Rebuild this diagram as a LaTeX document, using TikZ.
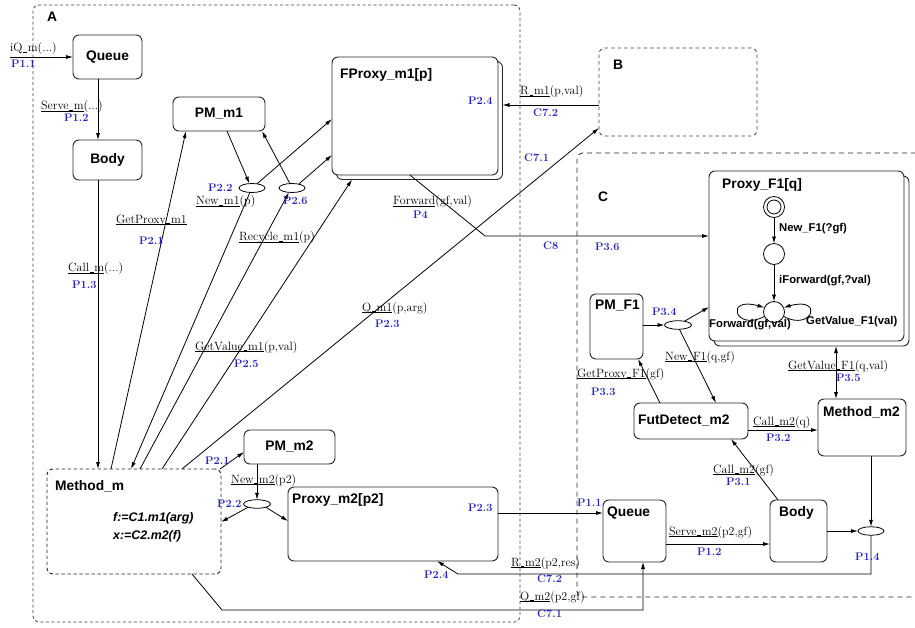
\documentclass[tikz,border=0pt]{standalone}
\usepackage{fontspec}
\setsansfont{Liberation Sans}
\usetikzlibrary{arrows.meta,shapes.geometric}
\definecolor{pblue}{RGB}{35,35,195}
\definecolor{boxc}{gray}{0.15}
\newcommand\ulab[1]{\underline{\smash{#1}}}
\newcommand\labus{\leavevmode\kern.06em\vbox{\hrule width.32em height.45pt}\kern.06em}
\begin{document}
\begin{tikzpicture}[x=1pt,y=-1pt,
  box/.style={draw=boxc, line width=0.95pt, rounded corners=6pt, fill=white, inner sep=0pt, outer sep=0pt},
  dbox/.style={box, dash pattern=on 3.5pt off 2.5pt},
  region/.style={draw=black!75, line width=0.8pt, rounded corners=6pt, inner sep=0pt, outer sep=0pt},
  ell/.style={draw=black, line width=0.8pt, ellipse, inner sep=0pt, outer sep=0pt, minimum width=27pt, minimum height=8.5pt},
  stc/.style={draw=black, line width=0.8pt, circle, inner sep=0pt, outer sep=0pt, minimum size=21pt},
  nm/.style={font=\sffamily\bfseries\fontsize{13.8}{14}\selectfont, inner sep=0pt},
  inl/.style={font=\sffamily\bfseries\fontsize{11.3}{12}\selectfont, inner sep=0pt, anchor=west},
  itl/.style={font=\sffamily\bfseries\itshape\fontsize{12.4}{13}\selectfont, inner sep=0pt, anchor=west},
  lab/.style={font=\fontsize{12}{12}\selectfont, inner sep=0pt, anchor=west, text=black},
  plab/.style={font=\bfseries\fontsize{11}{11}\selectfont, inner sep=0pt, anchor=west, text=pblue},
  conn/.style={draw=black, line width=0.8pt},
  arr/.style={conn, -{Latex[length=7pt,width=4pt]}},
  darr/.style={conn, {Latex[length=7pt,width=4pt]}-{Latex[length=7pt,width=4pt]}},
]
\useasboundingbox (0,0) rectangle (915,627);

% regions
\node[region, dash pattern=on 3pt off 2.5pt, minimum width=487pt, minimum height=617pt] (regA) at (276.5,313.5) {};
\node[region, dash pattern=on 3.5pt off 3pt, minimum width=158pt, minimum height=88pt] (regB) at (678,92) {};
\node[region, draw=black!85, dash pattern=on 5pt off 4pt, minimum width=363pt, minimum height=444pt] (regC) at (758.5,375) {};
\node[nm, anchor=west] (labA) at (47,17) {A};
\node[nm, anchor=west] (labB) at (613,65) {B};
\node[nm, anchor=west] (labC) at (598,197) {C};

% boxes in A
\node[box, minimum width=69pt, minimum height=44pt] (queueA) at (107.5,57) {};
\node[nm] (queueAt) at (queueA) {Queue};
\node[box, minimum width=69pt, minimum height=40pt] (bodyA) at (107.5,160) {};
\node[nm] (bodyAt) at (bodyA) {Body};
\node[box, minimum width=92pt, minimum height=34pt] (pmmone) at (219,114) {};
\node[nm] (pmmonet) at (pmmone) {PM\_m1};
\node[box, minimum width=166pt, minimum height=118pt] (fproxysh) at (419.5,120.5) {};
\node[box, minimum width=166pt, minimum height=118pt] (fproxy) at (415,116) {};
\node[nm, anchor=west] (fproxyt) at (340,75) {FProxy\_m1[p]};
\node[dbox, minimum width=174pt, minimum height=105pt] (methodm) at (134,521.5) {};
\node[nm, anchor=west] (methodmt) at (55,486) {Method\_m};
\node[itl] (fline) at (113,518) {f:=C1.m1(arg)};
\node[itl] (xline) at (113,536) {x:=C2.m2(f)};
\node[box, minimum width=91pt, minimum height=34pt] (pmmtwo) at (289.5,447) {};
\node[nm] (pmmtwot) at (pmmtwo) {PM\_m2};
\node[box, minimum width=210pt, minimum height=74pt] (proxymtwo) at (393,524) {};
\node[nm, anchor=west] (proxymtwot) at (292,500) {Proxy\_m2[p2]};

% boxes in C
\node[box, minimum width=63pt, minimum height=62pt] (queueC) at (634.5,531) {};
\node[nm, anchor=west] (queueCt) at (607,513) {Queue};
\node[box, minimum width=57pt, minimum height=62pt] (bodyC) at (798.5,531) {};
\node[nm, anchor=west] (bodyCt) at (779,513) {Body};
\node[box, minimum width=114pt, minimum height=36pt] (futdet) at (691,421) {};
\node[nm, anchor=west] (futdett) at (638,421) {FutDetect\_m2};
\node[box, minimum width=88pt, minimum height=57pt] (methodmtwo) at (862,427.5) {};
\node[nm, anchor=west] (methodmtwot) at (823,412) {Method\_m2};
\node[box, minimum width=53pt, minimum height=65pt] (pmfone) at (616.5,326.5) {};
\node[nm, anchor=west] (pmfonet) at (595,306) {PM\_F1};
\node[box, minimum width=195pt, minimum height=170pt] (proxyfonesh) at (811.5,261) {};
\node[box, minimum width=195pt, minimum height=170pt] (proxyfone) at (806.5,256) {};
\node[nm, anchor=west] (proxyfonet) at (722,185) {Proxy\_F1[q]};

% states inside Proxy_F1
\node[stc] (st0) at (774,207) {};
\node[stc, minimum size=14pt] (st0in) at (st0) {};
\node[stc] (st1) at (774,254) {};
\node[stc] (st2) at (774,312) {};
\draw[arr] (st0) -- (st1);
\draw[arr] (st1) -- (st2);
\draw[arr] (st2.205) .. controls (735,332) and (724,296) .. (st2.155);
\draw[arr] (st2.-25) .. controls (813,332) and (824,296) .. (st2.25);
\node[inl] (tnew) at (779,229) {New\_F1(?gf)};
\node[inl] (tifw) at (779,281) {iForward(gf,?val)};
\node[inl] (tfw) at (709,325) {Forward(gf,val)};
\node[inl] (tgv) at (806,322) {GetValue\_F1(val)};

% ellipses
\node[ell, minimum width=26pt, minimum height=9pt] (ell22) at (252,188) {};
\node[ell, minimum width=26pt, minimum height=9pt] (ell26) at (292,188) {};
\node[ell] (ellm2) at (257,504) {};
\node[ell] (ell34) at (678,325) {};
\node[ell, minimum width=26pt] (ell14) at (871,531) {};

% connectors in A
\coordinate (iqstart) at (10,57);
\draw[arr] (iqstart) -- (queueA.west);
\draw[arr] (98,0 |- queueA.south) -- (98,0 |- bodyA.north);
\draw[arr] (98,0 |- bodyA.south) -- (98,0 |- methodm.north);
\draw[arr] (111,0 |- methodm.north) -- (186,0 |- pmmone.south);
\draw[arr] (ell22.245) -- (131,0 |- methodm.north);
\draw[arr] (140,0 |- methodm.north) -- (ell26.235);
\draw[arr] (162,0 |- methodm.north) -- (352,0 |- fproxysh.south);
\draw[arr] (182,0 |- methodm.north) -- (regB.west |- 0,128);
\draw[arr] (ell22.40) -- (fproxy.west |- 0,119);
\draw[arr] (ell26.30) -- (fproxy.west |- 0,155);
\draw[arr] (227,0 |- pmmone.south) -- (ell22.120);
\draw[arr] (ell26.115) -- (262,0 |- pmmone.south);
\coordinate (fwdbend) at (485,236);
\draw[arr] (410,0 |- fproxy.south) -- (fwdbend) -- (proxyfone.west |- fwdbend);
\draw[arr] (regB.west |- 0,105) -- (fproxysh.east |- 0,105);
\draw[arr] (257,0 |- pmmtwo.south) -- (ellm2.north);
\draw[arr] (ellm2.200) -- (methodm.east |- 0,522);
\draw[arr] (ellm2.-20) -- (proxymtwo.west |- 0,521);
\draw[arr] (220,0 |- methodm.north) -- (pmmtwo.west |- 0,452);
\draw[arr] (proxymtwo.east |- 0,513) -- (queueC.west |- 0,513);
\coordinate (rmtwobend) at (458,574);
\draw[arr] (ell14.south) |- (rmtwobend) -- (437,0 |- proxymtwo.south);
\coordinate (qmtwobend) at (222,610);
\draw[arr] (192,0 |- methodm.south) -- (qmtwobend) -| (643,0 |- queueC.south);

% connectors in C
\draw[arr] (queueC.east |- 0,544) -- (bodyC.west |- 0,544);
\draw[arr] (778,0 |- bodyC.north) -- (731,0 |- futdet.south);
\draw[arr] (futdet.east |- 0,430) -- (methodmtwo.west |- 0,430);
\draw[arr] (bodyC.east |- ell14) -- (ell14.west);
\draw[arr] (871,0 |- methodmtwo.south) -- (ell14.north);
\draw[darr] (836,0 |- proxyfonesh.south) -- (836,0 |- methodmtwo.north);
\draw[arr] (660,0 |- futdet.north) -- (638,0 |- pmfone.south);
\draw[arr] (pmfone.east |- ell34) -- (ell34.west);
\draw[arr] (ell34.30) -- (proxyfone.west |- 0,307);
\draw[arr] (ell34.-72) -- (716,0 |- futdet.north);

% black labels
\node[lab] (l1) at (10,49) {iQ\labus m(...)};
\node[lab] (l2) at (41,107) {\ulab{Serve\labus m}(...)};
\node[lab] (l3) at (68,269) {\ulab{Call\labus m}(...)};
\node[lab] (l4) at (116,224) {\ulab{GetProxy\labus m1}};
\node[lab] (l5) at (196,202) {\ulab{New\labus m1}(p)};
\node[lab] (l6) at (239,238) {\ulab{Recycle\labus m1}(p)};
\node[lab] (l7) at (195,347) {\ulab{GetValue\labus m1}(p,val)};
\node[lab] (l8) at (362,308) {\ulab{Q\labus m1}(p,arg)};
\node[lab] (l9) at (393,202) {\ulab{Forward}(gf,val)};
\node[lab] (l10) at (520,92) {\ulab{R\labus m1}(p,val)};
\node[lab] (l11) at (231,480) {\ulab{New\labus m2}(p2)};
\node[lab] (l12) at (511,563) {\ulab{R\labus m2}(p2,res)};
\node[lab] (l13) at (520,597) {\ulab{Q\labus m2}(p2,gf)};
\node[lab] (l14) at (669,532) {\ulab{Serve\labus m2}(p2,gf)};
\node[lab] (l15) at (713,470) {\ulab{Call\labus m2}(gf)};
\node[lab] (l16) at (753,422) {\ulab{Call\labus m2}(q)};
\node[lab] (l17) at (788,366) {\ulab{GetValue\labus F1}(q,val)};
\node[lab] (l18) at (577,374) {\ulab{GetProxy\labus F1}(gf)};
\node[lab] (l19) at (665,357) {\ulab{New\labus F1}(q,gf)};

% blue labels
\node[plab] (p1) at (11,64) {P1.1};
\node[plab] (p2) at (64,118) {P1.2};
\node[plab] (p3) at (72,285) {P1.3};
\node[plab] (p4) at (139,241) {P2.1};
\node[plab] (p5) at (208,188) {P2.2};
\node[plab] (p6) at (283,201) {P2.6};
\node[plab] (p7) at (234,364) {P2.5};
\node[plab] (p8) at (375,324) {P2.3};
\node[plab] (p9) at (413,215) {P4};
\node[plab] (p10) at (543,246) {C8};
\node[plab] (p11) at (595,247) {P3.6};
\node[plab] (p12) at (468,101) {P2.4};
\node[plab] (p13) at (533,113) {C7.2};
\node[plab] (p14) at (524,158) {C7.1};
\node[plab] (p15) at (205,461) {P2.1};
\node[plab] (p16) at (217,504) {P2.2};
\node[plab] (p17) at (468,508) {P2.3};
\node[plab] (p18) at (577,503) {P1.1};
\node[plab] (p19) at (537,579) {C7.2};
\node[plab] (p20) at (424,575) {P2.4};
\node[plab] (p21) at (537,614) {C7.1};
\node[plab] (p22) at (697,552) {P1.2};
\node[plab] (p23) at (726,482) {P3.1};
\node[plab] (p24) at (766,438) {P3.2};
\node[plab] (p25) at (836,378) {P3.5};
\node[plab] (p26) at (591,392) {P3.3};
\node[plab] (p27) at (652,312) {P3.4};
\node[plab] (p28) at (855,557) {P1.4};
\end{tikzpicture}
\end{document}
